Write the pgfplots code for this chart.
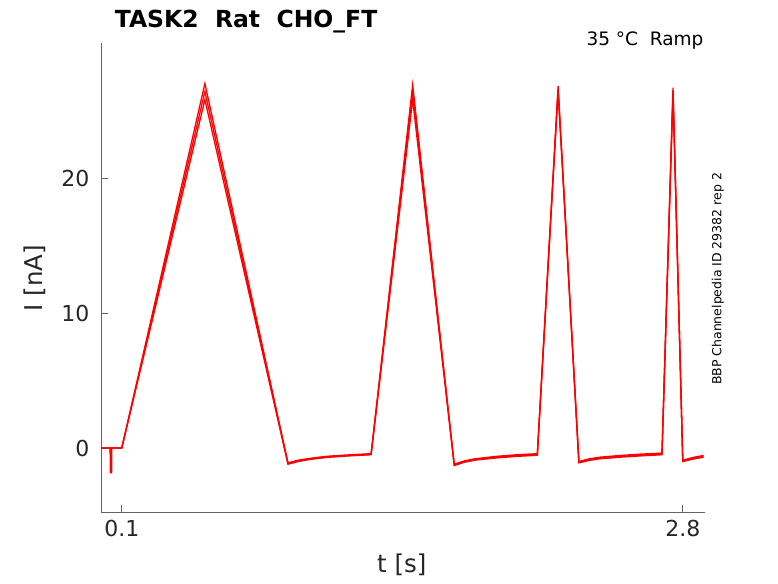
\documentclass[border=0pt]{standalone}
\usepackage{pgfplots}
\pgfplotsset{compat=1.18}
\usepackage{fontspec}
\setmainfont{DejaVu Sans}
\definecolor{axgray}{RGB}{100,100,100}
\definecolor{txtgray}{RGB}{38,38,38}
\begin{document}
\begin{tikzpicture}
\path[use as bounding box] (0,0) rectangle (778pt,583pt);
\begin{axis}[
  at={(101pt,71pt)}, anchor=south west,
  scale only axis, width=604pt, height=469pt,
  xmin=0, xmax=2.907, ymin=-4.74, ymax=30,
  axis lines*=left,
  axis line style={axgray, line width=0.8pt},
  tick align=inside, major tick length=7pt,
  tick style={axgray, line width=0.8pt},
  xtick={0.1,2.8}, ytick={0,10,20},
  xticklabels={0.1,2.8},
  /pgf/number format/assume math mode=true,
  ticklabel style={font=\fontsize{22}{26}\selectfont, text=txtgray},
  xticklabel style={yshift=-5pt},
  yticklabel style={xshift=-8pt},
  xlabel={t [s]}, ylabel={I [nA]},
  label style={font=\fontsize{24.5}{28}\selectfont, text=txtgray},
  xlabel style={at={(axis description cs:0.498,-0.113)}, anchor=center},
  ylabel style={at={(axis description cs:-0.109,0.499)}, anchor=center, rotate=0},
  clip=false,
]
\addplot[red, line width=1.3pt] coordinates {
(0,0) (0.045,0) (0.046,-1.83) (0.050,-1.83) (0.051,0) (0.1,0)
(0.5,27.0) (0.9,-1.1) (0.95,-0.9) (1.0,-0.78) (1.05,-0.68) (1.1,-0.6) (1.2,-0.5) (1.3,-0.42)
(1.5,26.9) (1.7,-1.2) (1.75,-0.95) (1.8,-0.8) (1.9,-0.62) (2.0,-0.5) (2.1,-0.42)
(2.2,26.8) (2.3,-1.0) (2.35,-0.8) (2.4,-0.68) (2.5,-0.55) (2.6,-0.45) (2.7,-0.38)
(2.753,26.7) (2.8,-0.9) (2.85,-0.7) (2.9,-0.55)
};
\addplot[red, line width=1.3pt] coordinates {
(0,0) (0.045,0) (0.046,-1.8) (0.050,-1.8) (0.051,0) (0.1,0)
(0.5,26.4) (0.9,-1.15) (0.95,-0.95) (1.0,-0.82) (1.05,-0.72) (1.1,-0.64) (1.2,-0.54) (1.3,-0.46)
(1.5,26.5) (1.7,-1.25) (1.75,-1.0) (1.8,-0.85) (1.9,-0.68) (2.0,-0.56) (2.1,-0.48)
(2.2,26.6) (2.3,-1.05) (2.35,-0.86) (2.4,-0.74) (2.5,-0.62) (2.6,-0.52) (2.7,-0.45)
(2.753,26.5) (2.8,-0.95) (2.85,-0.76) (2.9,-0.62)
};
\addplot[red, line width=1.3pt] coordinates {
(0,0) (0.045,0) (0.046,-1.7) (0.050,-1.7) (0.051,0) (0.1,0)
(0.5,25.8) (0.9,-1.2) (0.95,-1.0) (1.0,-0.86) (1.05,-0.76) (1.1,-0.68) (1.2,-0.58) (1.3,-0.5)
(1.5,25.8) (1.7,-1.3) (1.75,-1.05) (1.8,-0.9) (1.9,-0.74) (2.0,-0.62) (2.1,-0.54)
(2.2,26.4) (2.3,-1.1) (2.35,-0.92) (2.4,-0.8) (2.5,-0.68) (2.6,-0.58) (2.7,-0.5)
(2.753,26.3) (2.8,-1.0) (2.85,-0.82) (2.9,-0.68)
};
\node[anchor=base west, font=\fontsize{23.5}{27}\bfseries\selectfont, text=black]
  at (axis description cs:0.017,1.034) {TASK2\ \ Rat\ \ CHO\_FT};
\node[anchor=base east, font=\fontsize{18.5}{22}\selectfont, text=black]
  at (axis description cs:1.0033,0.9936) {35 °C\ \ Ramp};
\node[anchor=center, rotate=90, font=\fontsize{12.5}{15}\selectfont, text=black]
  at (axis description cs:1.0215,0.497) {BBP Channelpedia ID 29382 rep 2};
\end{axis}
\end{tikzpicture}
\end{document}
